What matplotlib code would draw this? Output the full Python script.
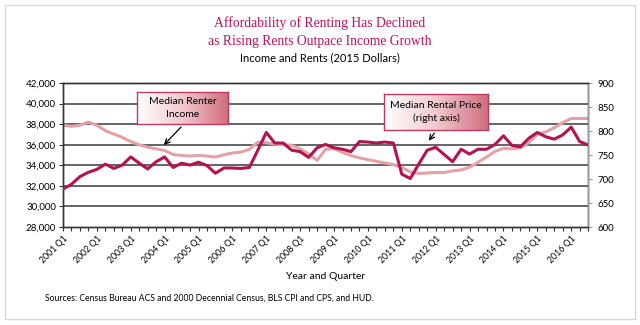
import numpy as np
import matplotlib
matplotlib.use('Agg')
import matplotlib.pyplot as plt
from matplotlib.patches import Rectangle

# Quarters 2001 Q1 - 2016 Q3
years = list(range(2001, 2017))
quarters = [f"{y} Q{q}" for y in years for q in range(1, 5)][:63]

# Median renter income (left axis, 2015 dollars)
renter_income = [37900, 37780, 37900, 38200, 37900, 37360, 37040, 36720, 36300, 36000,
                 35760, 35600, 35440, 35050, 34960, 34900, 34960, 34900, 34800, 35020,
                 35200, 35280, 35550, 36250, 36200, 36050, 36000, 35950, 35600, 35100,
                 34480, 35550, 35620, 35250, 34950, 34720, 34550, 34380, 34220, 34060,
                 33800, 33350, 33200, 33250, 33300, 33300, 33450, 33550, 33800, 34300,
                 34800, 35350, 35650, 35600, 35700, 36200, 37000, 37250, 37650, 38150,
                 38550, 38550, 38550]

# Median rental price (right axis, 2015 dollars)
rental_price = [679, 689, 705, 714, 720, 731, 722, 729, 746, 733,
                721, 736, 746, 724, 733, 729, 735, 728, 712, 723,
                723, 722, 724, 760, 797, 775, 775, 760, 757, 745,
                765, 772, 765, 762, 757, 778, 777, 775, 777, 775,
                710, 701, 731, 760, 766, 751, 736, 762, 752, 762,
                762, 772, 790, 770, 767, 785, 797, 788, 783, 792,
                808, 778, 771]

sans = ['Lato', 'DejaVu Sans']
dark = '#B3134F'
light = '#E4A2A6'
title_col = '#B8145A'

fig = plt.figure(figsize=(6.4, 3.25), dpi=100)
fig.patches.append(Rectangle((0.008, 0.02), 0.984, 0.965, transform=fig.transFigure,
                             fill=False, edgecolor='#D8D8D8', linewidth=1.0))

ax = fig.add_axes([0.0984, 0.3015, 0.8206, 0.4431])
x = np.arange(len(quarters))

ax.set_ylim(28000, 42000)
ax.set_yticks(range(28000, 42001, 2000))
ax.set_yticklabels([f"{v:,}" for v in range(28000, 42001, 2000)], fontsize=7, family=sans)
for v in range(30000, 42000, 2000):
    ax.axhline(v, color='#4A4A4A', linewidth=1.2, zorder=0)
ax.plot(x, renter_income, color=light, linewidth=2.2, zorder=2)

ax2 = ax.twinx()
ax2.set_ylim(600, 900)
ax2.set_yticks(range(600, 901, 50))
ax2.set_yticklabels([str(v) for v in range(600, 901, 50)], fontsize=7, family=sans)
ax2.plot(x, rental_price, color=dark, linewidth=2.2, zorder=3)

ax.set_xlim(0, len(quarters) - 1)
ax.set_xticks(x[::4])
ax.set_xticklabels(quarters[::4], rotation=45, ha='right', rotation_mode='anchor',
                   fontsize=6.3, family=sans)
ax.set_xticks(x, minor=True)
ax.tick_params(axis='x', which='both', length=3, width=0.8, color='#333333', pad=2)
ax.tick_params(axis='y', length=3, width=0.8, color='#333333', pad=2)
ax2.tick_params(axis='y', length=3, width=0.8, color='#999999', pad=4)
for a in (ax, ax2):
    for s in a.spines.values():
        s.set_color('#333333')
        s.set_linewidth(1.0)
ax2.spines['right'].set_color('#999999')
ax.set_xlabel('Year and Quarter', fontsize=7.5, family=sans, labelpad=5)

# titles
fig.text(0.5, 0.928, 'Affordability of Renting Has Declined', ha='center', va='center',
         fontsize=9.8, color=title_col, family='Liberation Serif')
fig.text(0.5, 0.871, 'as Rising Rents Outpace Income Growth', ha='center', va='center',
         fontsize=9.8, color=title_col, family='Liberation Serif')
fig.text(0.5, 0.822, 'Income and Rents (2015 Dollars)', ha='center', va='center',
         fontsize=8, color='black', family=sans)
fig.text(0.07, 0.083, 'Sources: Census Bureau ACS and 2000 Decennial Census, BLS CPI and CPS, and HUD.',
         ha='left', va='center', fontsize=6.2, family=sans)

# annotation boxes with gradient fill
grad = np.linspace(0, 1, 256).reshape(1, -1)
cmap = matplotlib.colors.LinearSegmentedColormap.from_list('g', ['#FFFFFF', '#F2C9CF', '#D16E7E'])


def label_box(x0, y0, w, h, text):
    bax = fig.add_axes([x0 / 640, 1 - (y0 + h) / 325, w / 640, h / 325])
    bax.imshow(grad, aspect='auto', cmap=cmap, extent=(0, 1, 0, 1))
    bax.set_xticks([])
    bax.set_yticks([])
    for s in bax.spines.values():
        s.set_color('#C0395E')
        s.set_linewidth(1.0)
    bax.text(0.5, 0.5, text, ha='center', va='center', fontsize=7.5, family=sans,
             transform=bax.transAxes, linespacing=1.5)


label_box(137, 92, 91, 32, 'Median Renter\nIncome')
label_box(384, 94, 104, 36, 'Median Rental Price\n(right axis)')

fig.add_artist(matplotlib.patches.FancyArrowPatch(
    (183 / 640, 1 - 125 / 325), (162 / 640, 1 - 147 / 325), transform=fig.transFigure,
    arrowstyle='->', mutation_scale=9, color='black', linewidth=0.9))
fig.add_artist(matplotlib.patches.FancyArrowPatch(
    (436 / 640, 1 - 131 / 325), (427 / 640, 1 - 143 / 325), transform=fig.transFigure,
    arrowstyle='->', mutation_scale=9, color='black', linewidth=0.9))

fig.savefig('out.png', dpi=100)
